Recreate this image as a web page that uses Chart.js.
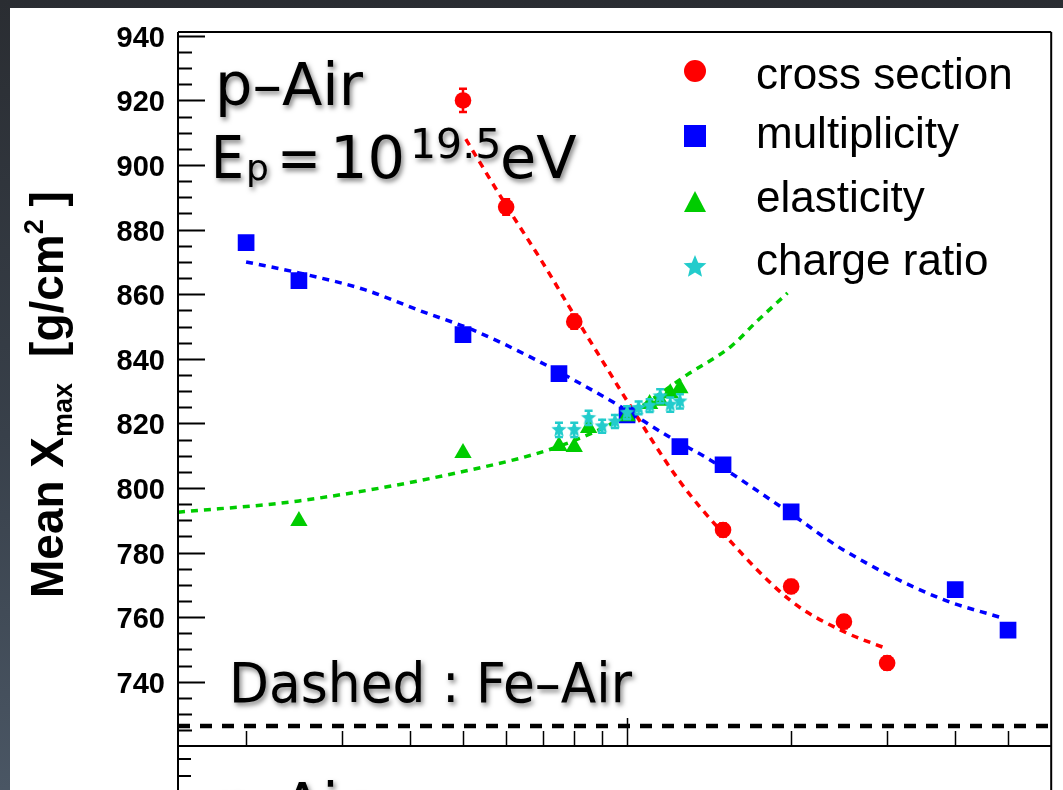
<!DOCTYPE html>
<html>
<head>
<meta charset="utf-8">
<script src="https://cdn.jsdelivr.net/npm/chart.js@4.4.0/dist/chart.umd.min.js"></script>
<style>
  html, body { margin: 0; padding: 0; }
  body {
    width: 1063px; height: 790px; overflow: hidden; position: relative;
    background: linear-gradient(180deg, #2a2d32 0%, #38404a 55%, #4a5664 100%);
  }
  #panel { position: absolute; left: 10px; top: 8px; right: 0; bottom: 0; background: #fff; }
  #c { position: absolute; left: 0; top: 0; }
</style>
</head>
<body>
<div id="panel"></div>
<canvas id="c" width="1063" height="790"></canvas>
<script>
// modification factor (log x) vs mean Xmax [g/cm^2], p-Air at 10^19.5 eV
const crossX = [0.5, 0.6, 0.8, 1.0, 1.5, 2.0, 2.5, 3.0];
const crossY = [920, 887, 851.5, 823, 787, 769.5, 758.6, 745.8];
const crossErr = [3.6, 2.4, 2.2, 2, 2, 2, 2, 2];

const multX = [0.2, 0.25, 0.5, 0.75, 1.0, 1.25, 1.5, 2.0, 4.0, 5.0];
const multY = [876, 864.2, 847.5, 835.4, 822.6, 812.8, 807.2, 792.6, 768.5, 756];

const elastX = [0.25, 0.5, 0.75, 0.8, 0.85, 1.0, 1.1, 1.15, 1.2, 1.25];
const elastY = [789.8, 810.8, 813.0, 812.7, 818.6, 822.2, 826.0, 827.0, 829.3, 830.9];

const chargeX = [0.75, 0.8, 0.85, 0.9, 0.95, 1.0, 1.05, 1.1, 1.15, 1.2, 1.25];
const chargeY = [818, 818, 821.7, 819.1, 820.6, 823.3, 824.8, 825.5, 828.4, 825.8, 826.8];
const chargeErr = [2.2, 2.2, 2.2, 2, 2, 2, 2, 2, 2.2, 2.2, 2.2];

// fitted curves
const crossFitX = [0.506, 0.6, 0.7, 0.8, 0.9, 1.0, 1.25, 1.5, 2.0, 2.5, 3.0];
const crossFitY = [908, 887.5, 869.8, 853.5, 839.5, 827, 802, 786, 765, 755.5, 750.2];
const multFitX = [0.2, 0.25, 0.33, 0.42, 0.52, 0.68, 0.96, 1.19, 1.42, 2.0, 2.49, 3.74, 4.89];
const multFitY = [870, 866.6, 861.4, 854.7, 849, 839.7, 825.8, 816, 808.7, 792, 780.9, 765.9, 759.7];
const elastFitX = [0.15, 0.25, 0.5, 0.75, 1.0, 1.29, 1.55, 1.73, 1.97];
const elastFitY = [792.5, 796, 805.1, 812.9, 822.5, 835.1, 843.8, 851.6, 860.4];

// Fe-Air reference level
const feLevel = 726.3;

const xMin = 0.15, xMax = 6.0;
const yMin = 720.1, yMax = 941.2;
const yTicks = [740, 760, 780, 800, 820, 840, 860, 880, 900, 920, 940];
const xMinorTicks = [0.2, 0.3, 0.4, 0.5, 0.6, 0.7, 0.8, 0.9, 2, 3, 4, 5];
const xMajorTicks = [1];

const legendLabels = ['cross section', 'multiplicity', 'elasticity', 'charge ratio'];

const RED = '#ff0000', BLUE = '#0000ff', GREEN = '#00cc00', CYAN = '#22cccc';

const pts = (xs, ys) => xs.map((x, i) => ({ x, y: ys[i] }));

function starPath(g, cx, cy, r, ri) {
  g.beginPath();
  for (let i = 0; i < 10; i++) {
    const a = -Math.PI / 2 + i * Math.PI / 5;
    const rr = i % 2 ? ri : r;
    g.lineTo(cx + rr * Math.cos(a), cy + rr * Math.sin(a));
  }
  g.closePath();
}

function starImage(r, color) {
  const c = document.createElement('canvas');
  const s = Math.ceil(r * 2 + 2);
  c.width = c.height = s;
  const g = c.getContext('2d');
  starPath(g, s / 2, s / 2, r, r * 0.45);
  g.fillStyle = color;
  g.fill();
  return c;
}

const errorBars = {
  id: 'errorBars',
  beforeDatasetDraw(chart, args) {
    const ds = chart.data.datasets[args.index];
    if (!ds.errors) return;
    const { ctx, scales: { x, y } } = chart;
    ctx.save();
    ctx.strokeStyle = ds.backgroundColor;
    ctx.lineWidth = 2.5;
    ds.data.forEach((p, i) => {
      const px = x.getPixelForValue(p.x);
      const top = y.getPixelForValue(p.y + ds.errors[i]);
      const bot = y.getPixelForValue(p.y - ds.errors[i]);
      ctx.beginPath();
      ctx.moveTo(px, top); ctx.lineTo(px, bot);
      ctx.moveTo(px - 4, top); ctx.lineTo(px + 4, top);
      ctx.moveTo(px - 4, bot); ctx.lineTo(px + 4, bot);
      ctx.stroke();
    });
    ctx.restore();
  }
};

function shadowed(ctx, fn) {
  ctx.save();
  ctx.shadowColor = 'rgba(0,0,0,0.5)';
  ctx.shadowBlur = 5;
  ctx.shadowOffsetX = 2;
  ctx.shadowOffsetY = 3;
  fn();
  ctx.restore();
}

const frame = {
  id: 'frame',
  afterDraw(chart) {
    const { ctx, chartArea: a, scales: { x, y } } = chart;
    ctx.save();
    ctx.strokeStyle = '#000';
    ctx.lineWidth = 2;

    // box
    ctx.beginPath();
    ctx.moveTo(a.left, a.top); ctx.lineTo(a.right, a.top);
    ctx.moveTo(a.left, a.bottom); ctx.lineTo(a.right, a.bottom);
    ctx.moveTo(a.left, a.top); ctx.lineTo(a.left, 790);
    ctx.moveTo(a.right, a.top); ctx.lineTo(a.right, 790);
    ctx.stroke();

    // y ticks, inward
    ctx.beginPath();
    for (let v = 725; v <= 940; v += 5) {
      const py = Math.round(y.getPixelForValue(v)) + 0.5;
      const len = yTicks.includes(v) ? 27 : 14;
      ctx.moveTo(a.left, py); ctx.lineTo(a.left + len, py);
    }
    // next panel below
    ctx.moveTo(a.left, 759); ctx.lineTo(a.left + 13, 759);
    ctx.moveTo(a.left, 776); ctx.lineTo(a.left + 13, 776);
    ctx.stroke();

    // x ticks, inward from bottom
    ctx.lineWidth = 1.5;
    ctx.beginPath();
    xMinorTicks.forEach(v => {
      const px = Math.round(x.getPixelForValue(v)) + 0.5;
      ctx.moveTo(px, a.bottom); ctx.lineTo(px, a.bottom - 15);
    });
    xMajorTicks.forEach(v => {
      const px = Math.round(x.getPixelForValue(v)) + 0.5;
      ctx.moveTo(px, a.bottom); ctx.lineTo(px, a.bottom - 28);
    });
    ctx.stroke();

    // y title
    ctx.save();
    ctx.translate(63, 598);
    ctx.rotate(-Math.PI / 2);
    ctx.fillStyle = '#000';
    ctx.textAlign = 'left';
    ctx.textBaseline = 'alphabetic';
    const big = 'bold 46px "Liberation Sans", Arial, sans-serif';
    const small = 'bold 27px "Liberation Sans", Arial, sans-serif';
    let tx = 0;
    const put = (s, font, dy) => {
      ctx.font = font;
      ctx.fillText(s, tx, dy);
      tx += ctx.measureText(s).width;
    };
    put('Mean X', big, 0);
    put('max', small, 9);
    tx += 26;
    put('[g/cm', big, 0);
    put('2', small, -20);
    put(' ]', big, 0);
    ctx.restore();

    // panel labels
    ctx.fillStyle = '#000';
    ctx.textAlign = 'left';
    ctx.textBaseline = 'alphabetic';
    const sans = '"DejaVu Sans", Verdana, sans-serif';
    shadowed(ctx, () => {
      ctx.font = '59px ' + sans;
      ctx.fillText('p\u2013Air', 215, 105, 158);
      ctx.fillText('E', 211, 178, 33);
      ctx.fillText('=', 277, 178, 44);
      ctx.fillText('10', 330, 178);
      ctx.fillText('eV', 500, 178);
      ctx.font = '36px ' + sans;
      ctx.fillText('p', 246, 180);
      ctx.font = '41px ' + sans;
      ctx.fillText('19.5', 410, 158);
      ctx.font = '55px ' + sans;
      ctx.fillText('Dashed : Fe\u2013Air', 229, 702, 403);
      ctx.font = '59px ' + sans;
      ctx.fillText('p\u2013Air', 215, 825, 158);
    });

    // legend
    const lx = 695;
    const ly = [71, 136, 202, 267];
    const textY = [89, 148, 212, 275];
    ctx.fillStyle = RED;
    ctx.beginPath(); ctx.arc(lx, ly[0], 11, 0, Math.PI * 2); ctx.fill();
    ctx.fillStyle = BLUE;
    ctx.fillRect(lx - 11, ly[1] - 11, 22, 22);
    ctx.fillStyle = GREEN;
    ctx.beginPath();
    ctx.moveTo(lx, ly[2] - 11); ctx.lineTo(lx + 11, ly[2] + 10); ctx.lineTo(lx - 11, ly[2] + 10);
    ctx.closePath(); ctx.fill();
    ctx.fillStyle = CYAN;
    starPath(ctx, lx, ly[3], 12, 5.4);
    ctx.fill();

    ctx.fillStyle = '#000';
    ctx.font = '44px "Liberation Sans", Arial, sans-serif';
    legendLabels.forEach((t, i) => ctx.fillText(t, 756, textY[i]));

    ctx.restore();
  }
};

new Chart(document.getElementById('c'), {
  type: 'scatter',
  data: {
    datasets: [
      {
        label: 'Fe-Air', data: [{ x: xMin, y: feLevel }, { x: xMax, y: feLevel }],
        showLine: true, pointRadius: 0, borderColor: '#000', borderWidth: 4.5,
        borderDash: [12, 10], order: 20
      },
      {
        label: 'cross section fit', data: pts(crossFitX, crossFitY), showLine: true,
        pointRadius: 0, borderColor: RED, borderWidth: 3.5, borderDash: [7, 6],
        cubicInterpolationMode: 'monotone', order: 13
      },
      {
        label: 'multiplicity fit', data: pts(multFitX, multFitY), showLine: true,
        pointRadius: 0, borderColor: BLUE, borderWidth: 3.5, borderDash: [7, 6],
        cubicInterpolationMode: 'monotone', order: 12
      },
      {
        label: 'elasticity fit', data: pts(elastFitX, elastFitY), showLine: true,
        pointRadius: 0, borderColor: GREEN, borderWidth: 3.5, borderDash: [7, 6],
        cubicInterpolationMode: 'monotone', order: 11
      },
      {
        label: legendLabels[0], data: pts(crossX, crossY), errors: crossErr,
        pointStyle: 'circle', pointRadius: 8.3, backgroundColor: RED, borderColor: RED,
        borderWidth: 0, order: 4
      },
      {
        label: legendLabels[1], data: pts(multX, multY),
        pointStyle: 'rect', pointRadius: 11.8, backgroundColor: BLUE, borderColor: BLUE,
        borderWidth: 0, order: 3
      },
      {
        label: legendLabels[2], data: pts(elastX, elastY),
        pointStyle: 'triangle', pointRadius: 10, backgroundColor: GREEN, borderColor: GREEN,
        borderWidth: 0, order: 2
      },
      {
        label: legendLabels[3], data: pts(chargeX, chargeY), errors: chargeErr,
        pointStyle: starImage(8, CYAN), backgroundColor: CYAN, borderColor: CYAN,
        order: 1
      }
    ]
  },
  options: {
    responsive: false,
    animation: false,
    events: [],
    devicePixelRatio: 1,
    layout: { padding: { left: 0, top: 32, right: 5, bottom: 44 } },
    plugins: { legend: { display: false }, tooltip: { enabled: false } },
    scales: {
      x: { type: 'logarithmic', min: xMin, max: xMax, display: false },
      y: {
        type: 'linear', min: yMin, max: yMax,
        afterBuildTicks: s => { s.ticks = yTicks.map(v => ({ value: v })); },
        afterFit: s => { s.width = 178; },
        grid: { display: false, drawTicks: false },
        border: { display: false },
        ticks: {
          padding: 13, color: '#000', labelOffset: 3,
          font: { family: '"Liberation Sans", Arial, sans-serif', size: 29, weight: 'bold' }
        }
      }
    }
  },
  plugins: [errorBars, frame]
});
</script>
</body>
</html>
